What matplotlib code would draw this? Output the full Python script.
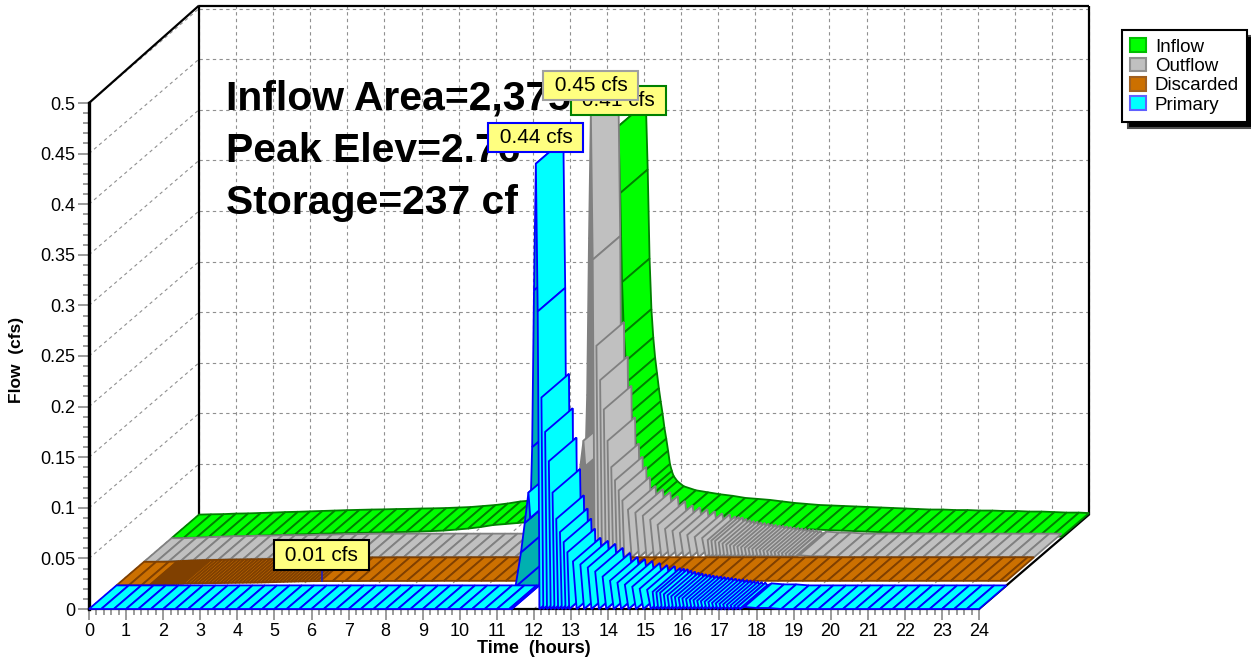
import matplotlib
matplotlib.use("Agg")
import matplotlib.pyplot as plt
from matplotlib.patches import Polygon, Patch
from matplotlib.ticker import MultipleLocator, FixedLocator, FixedFormatter

plt.rcParams["font.family"] = ["Liberation Sans", "DejaVu Sans"]

# ===== data =====
x_ticks = list(range(25))
y_ticks = [0, 0.05, 0.1, 0.15, 0.2, 0.25, 0.3, 0.35, 0.4, 0.45, 0.5]
y_labels = ["0", "0.05", "0.1", "0.15", "0.2", "0.25", "0.3", "0.35", "0.4", "0.45", "0.5"]

time_early = [0, 0.33, 0.67, 1, 1.33, 1.67, 2, 2.33, 2.67, 3, 3.33, 3.67, 4, 4.33, 4.67, 5, 5.33, 5.67,
              6, 6.33, 6.67, 7, 7.33, 7.67, 8, 8.33, 8.67, 9, 9.33, 9.67, 10, 10.33, 10.67, 11, 11.33]
time_pulse = [11.40, 11.50, 11.65, 11.75, 11.85, 11.90, 11.95, 12.00, 12.05,
              12.10, 12.15, 12.20, 12.25, 12.30, 12.35, 12.40, 12.45, 12.50, 12.55, 12.60, 12.65,
              12.70, 12.75, 12.80, 12.85, 12.90, 12.95,
              13.05, 13.15, 13.25, 13.35, 13.45, 13.55, 13.65, 13.75, 13.85, 13.95, 14.05, 14.15,
              14.25, 14.35, 14.45, 14.55, 14.65, 14.75, 14.85, 14.95, 15.05, 15.15,
              15.20, 15.25, 15.30, 15.35, 15.40, 15.45, 15.50, 15.55, 15.60, 15.65, 15.70, 15.75,
              15.80, 15.85, 15.90, 15.95, 16.00, 16.05, 16.10, 16.15, 16.20, 16.25, 16.30, 16.35,
              16.40, 16.45, 16.50, 16.55, 16.60, 16.65, 16.70, 16.75, 16.80, 16.85, 16.90, 16.95,
              17.00, 17.05, 17.10, 17.15, 17.20, 17.25, 17.30, 17.35, 17.40, 17.45, 17.50, 17.55]
time_late = [17.67, 18, 18.33, 18.67, 19, 19.33, 19.67, 20, 20.33, 20.67, 21, 21.33, 21.67,
             22, 22.33, 22.67, 23, 23.33, 23.67, 24]

primary_early = [0.0] * 35
primary_pulse = [0.0, 0.022, 0.056, 0.085, 0.115, 0.09, 0.16, 0.315, 0.44,
                 0.294, 0, 0.209, 0, 0.175, 0, 0.146, 0, 0.115, 0, 0.089, 0,
                 0.076, 0, 0.066, 0, 0.056, 0,
                 0.047, 0, 0.044, 0, 0.041, 0, 0.037, 0, 0.032, 0, 0.028, 0,
                 0.026, 0, 0.024, 0, 0.022, 0, 0.020, 0, 0.019, 0,
                 0.017, 0, 0.0165, 0, 0.016, 0, 0.0145, 0, 0.0135, 0, 0.0125, 0,
                 0.0118, 0, 0.011, 0, 0.0105, 0, 0.0098, 0, 0.0092, 0, 0.0087, 0,
                 0.0082, 0, 0.0077, 0, 0.0072, 0, 0.0067, 0, 0.006, 0, 0.0055, 0,
                 0.005, 0, 0.0045, 0, 0.004, 0, 0.0035, 0, 0.003, 0, 0.0025, 0]
primary_late = [0.002, 0.001, 0.001, 0, 0, 0, 0, 0, 0, 0, 0, 0, 0, 0, 0, 0, 0, 0, 0, 0]

outflow_early = [0, 0, 0.0005, 0.001, 0.0015, 0.002, 0.002, 0.0025, 0.0025, 0.003, 0.003, 0.003, 0.0035,
                 0.0035, 0.004, 0.004, 0.0043, 0.0045, 0.0045, 0.0045, 0.0045, 0.0045, 0.0045, 0.0045,
                 0.0045, 0.0045, 0.0045, 0.0045, 0.0045, 0.0045, 0.0045, 0.0045, 0.0045, 0.0045, 0.0045]
outflow_pulse = [0.0045, 0.0265, 0.0605, 0.0895, 0.1195, 0.0945, 0.1645, 0.3195, 0.445,
                 0.2985, 0.0045, 0.2135, 0.0045, 0.1795, 0.0045, 0.1505, 0.0045, 0.1195, 0.0045, 0.0935, 0.0045,
                 0.0805, 0.0045, 0.0705, 0.0045, 0.0605, 0.0045,
                 0.0515, 0.0045, 0.0485, 0.0045, 0.0455, 0.0045, 0.0415, 0.0045, 0.0365, 0.0045, 0.0325, 0.0045,
                 0.0305, 0.0045, 0.0285, 0.0045, 0.0265, 0.0045, 0.0245, 0.0045, 0.0235, 0.0045,
                 0.0215, 0.0045, 0.021, 0.0045, 0.0205, 0.0045, 0.019, 0.0045, 0.018, 0.0045, 0.017, 0.0045,
                 0.0163, 0.0045, 0.0155, 0.0045, 0.015, 0.0045, 0.0143, 0.0045, 0.0137, 0.0045, 0.0132, 0.0045,
                 0.0127, 0.0045, 0.0122, 0.0045, 0.0117, 0.0045, 0.0112, 0.0045, 0.0105, 0.0045, 0.01, 0.0045,
                 0.0095, 0.0045, 0.009, 0.0045, 0.0085, 0.0045, 0.008, 0.0045, 0.0075, 0.0045, 0.007, 0.0045]
outflow_late = [0.0065, 0.0055, 0.0055, 0.0045, 0.0045, 0.0045, 0.0045, 0.0045, 0.0045, 0.0045,
                0.0045, 0.0045, 0.0045, 0.0045, 0.0045, 0.0045, 0.0045, 0.0045, 0.0045, 0.0045]

time_discarded = [0, 0.33, 0.67, 0.90, 0.95, 1.00, 1.05, 1.10, 1.15, 1.20, 1.25, 1.30, 1.35, 1.40, 1.45,
                  1.50, 1.55, 1.60, 1.65, 1.70, 1.75, 1.80, 1.90, 2.00, 2.10, 2.20, 2.30, 2.40, 2.50,
                  2.60, 2.70, 2.80, 2.90, 3.00, 3.10, 3.20, 3.30, 3.40, 3.50, 3.60, 3.70, 3.80, 3.90,
                  4.00, 4.10, 4.20, 4.30, 4.40, 4.50, 4.60, 4.70, 4.80, 4.90, 5.00, 5.10, 5.20, 5.30,
                  5.40, 5.50, 5.83, 6.17, 6.50, 6.83, 7.17, 7.50, 7.83, 8.17, 8.50, 8.83, 9.17, 9.50,
                  9.83, 10.17, 10.50, 10.83, 11.17, 11.50, 11.83, 12.17, 12.50, 12.83, 13.17, 13.50,
                  13.83, 14.17, 14.50, 14.83, 15.17, 15.50, 15.83, 16.17, 16.50, 16.83, 17.17, 17.50,
                  17.83, 18.17, 18.50, 18.83, 19.17, 19.50, 19.83, 20.17, 20.50, 20.83, 21.17, 21.50,
                  21.83, 22.17, 22.50, 22.83, 23.17, 23.50, 23.83, 24]
discarded_flow = [0, 0, 0, 0.0004, 0.0005, 0.0006, 0.0007, 0.0008, 0.0009, 0.001, 0.0011, 0.0012, 0.0012, 0.0013,
                  0.0013, 0.0014, 0.0014, 0.0015, 0.0015, 0.0016, 0.0016, 0.0017, 0.0018, 0.0019, 0.002, 0.002,
                  0.0021, 0.0021, 0.0022, 0.0022, 0.0023, 0.0023, 0.0024, 0.0024, 0.0025, 0.0025, 0.0026, 0.0026,
                  0.0027, 0.0027, 0.0028, 0.0028, 0.0029, 0.003, 0.0031, 0.0032, 0.0033, 0.0034, 0.0035, 0.0036,
                  0.0037, 0.0038, 0.0039, 0.004, 0.004, 0.0041, 0.0042, 0.0042, 0.0043, 0.0043, 0.0043, 0.0043,
                  0.0044, 0.0044, 0.0044, 0.0044, 0.0044, 0.0044, 0.0045, 0.0045, 0.0045, 0.0045, 0.0045, 0.0045,
                  0.0045, 0.0045, 0.0045, 0.0045, 0.0045, 0.0045, 0.0045, 0.0045, 0.0045, 0.0045, 0.0045, 0.0045,
                  0.0045, 0.0045, 0.0045, 0.0045, 0.0045, 0.0045, 0.0045, 0.0045, 0.0045, 0.0045, 0.0045, 0.0045,
                  0.0045, 0.0045, 0.0045, 0.0045, 0.0045, 0.0045, 0.0045, 0.0045, 0.0045, 0.0045, 0.0045, 0.0045,
                  0.0045, 0.0045, 0.0045, 0.0045, 0.0045]

time_inflow = [0, 0.33, 0.67, 1, 1.33, 1.67, 2, 2.33, 2.67, 3, 3.33, 3.67, 4, 4.33, 4.67, 5, 5.33, 5.67,
               6, 6.33, 6.67, 7, 7.33, 7.67, 8, 8.33, 8.67, 9, 9.33, 9.67, 10, 10.33, 10.67, 11, 11.25,
               11.40, 11.50, 11.60, 11.70, 11.80, 11.90, 12.00, 12.05, 12.10, 12.15, 12.20, 12.25, 12.30,
               12.35, 12.40, 12.45, 12.50, 12.55, 12.60, 12.65, 12.70, 12.75, 12.80, 12.90, 13.07, 13.40,
               13.73, 14.07, 14.40, 14.73, 15.07, 15.40, 15.73, 16.07, 16.40, 16.73, 17.07, 17.40, 17.73,
               18.07, 18.40, 18.73, 19.07, 19.40, 19.73, 20.07, 20.40, 20.73, 21.07, 21.40, 21.73, 22.07,
               22.40, 22.73, 23.07, 23.40, 23.73, 24]
inflow_flow = [0, 0.0003, 0.0005, 0.001, 0.0012, 0.0016, 0.002, 0.0025, 0.0028, 0.0032, 0.0036, 0.004, 0.0044,
               0.0047, 0.005, 0.0052, 0.0055, 0.0057, 0.006, 0.0062, 0.0065, 0.007, 0.0075, 0.0085, 0.0095,
               0.011, 0.013, 0.014, 0.015, 0.016, 0.018, 0.02, 0.023, 0.027, 0.032,
               0.04, 0.05, 0.065, 0.085, 0.12, 0.19, 0.33, 0.407, 0.341, 0.253, 0.203, 0.175, 0.155,
               0.14, 0.125, 0.112, 0.10, 0.086, 0.075, 0.063, 0.05, 0.043, 0.038, 0.033, 0.028, 0.024,
               0.022, 0.02, 0.0185, 0.0165, 0.0155, 0.0145, 0.013, 0.0115, 0.0105, 0.0095, 0.009, 0.0085, 0.008,
               0.0075, 0.007, 0.0065, 0.006, 0.0055, 0.005, 0.005, 0.0045, 0.0045, 0.004, 0.004, 0.0035, 0.0035,
               0.003, 0.003, 0.0025, 0.002, 0.002, 0.0015]

# ===== obliqueness: one ribbon slot of depth, in data units =====
SLOT_H = 0.7416
SLOT_Q = 0.02332


def ribbon(ax, times, flows, slot, fill, dark, edge):
    dh, dq = slot * SLOT_H, slot * SLOT_Q
    base = 5 + 2 * (3 - slot)
    for i in range(len(times) - 1):
        t0, t1, q0, q1 = times[i], times[i + 1], flows[i], flows[i + 1]
        quad = [(t0 + dh, q0 + dq), (t1 + dh, q1 + dq), (t1 + dh + SLOT_H, q1 + dq + SLOT_Q), (t0 + dh + SLOT_H, q0 + dq + SLOT_Q)]
        # far sides of the saw teeth go first
        if (q1 - q0) / (t1 - t0) > 0.05:
            ax.add_patch(Polygon(quad, closed=True, fc=dark, ec=edge, lw=1.3, clip_on=False, zorder=base))
        else:
            ax.add_patch(Polygon(quad, closed=True, fc=fill, ec=edge, lw=1.3, clip_on=False, zorder=base + 1))


fig = plt.figure(figsize=(12.51, 6.66), dpi=100)
ax = fig.add_axes([89 / 1251, 1 - 609 / 666, 890 / 1251, 506 / 666])
ax.set_xlim(0, 24)
ax.set_ylim(0, 0.5)
ax.patch.set_visible(False)

# ===== walls and floor =====
GRID = dict(color="#909090", lw=0.8, dashes=(3, 3), clip_on=False, zorder=1)
back_h, back_q = SLOT_H * 4, SLOT_Q * 4
for t in x_ticks:
    ax.plot([t, t + back_h], [0, back_q], **GRID)
    ax.plot([t + back_h, t + back_h], [back_q, 0.5 + back_q + 0.003], **GRID)
for q in y_ticks:
    ax.plot([0, back_h], [q, q + back_q], **GRID)
    ax.plot([back_h, 24 + back_h], [q + back_q, q + back_q], **GRID)

FRAME = dict(color="black", clip_on=False, zorder=2, solid_capstyle="butt")
ax.plot([back_h, back_h], [back_q, 0.5 + back_q + 0.003], lw=1.6, **FRAME)
ax.plot([back_h, 24 + back_h], [0.5 + back_q + 0.003] * 2, lw=1.6, **FRAME)
ax.plot([24 + back_h, 24 + back_h], [back_q, 0.5 + back_q + 0.003], lw=1.6, **FRAME)
ax.plot([0, back_h], [0.5, 0.5 + back_q + 0.003], lw=1.6, **FRAME)
ax.plot([24, 24 + back_h], [0, back_q], lw=1.6, **FRAME)

for side in ("top", "right"):
    ax.spines[side].set_visible(False)
ax.spines["left"].set_linewidth(2.4)
ax.spines["bottom"].set_linewidth(1.6)

# ===== big note behind the ribbons =====
for line, y_px in (("Inflow Area=2,375 sf", 98), ("Peak Elev=2.76'", 151), ("Storage=237 cf", 203)):
    ax.text(226 / 1251, 1 - y_px / 666, line, transform=fig.transFigure, fontsize=29.4, fontweight="bold",
            ha="left", va="center", zorder=3)

# ===== ribbons, far to near =====
ribbon(ax, time_inflow, inflow_flow, 3, "#00FF00", "#00B000", "#008000")
ribbon(ax, time_early + time_pulse + time_late, outflow_early + outflow_pulse + outflow_late, 2, "#C0C0C0", "#808080", "#808080")
ribbon(ax, time_discarded, discarded_flow, 1, "#CC7000", "#804000", "#804000")
ribbon(ax, time_early + time_pulse + time_late, primary_early + primary_pulse + primary_late, 0, "#00FFFF", "#00B0B0", "#0000FF")

# ===== peak labels =====
peaks = [("0.41 cfs", 12.05, 0.407, 3, "#008000"),
         ("0.45 cfs", 12.05, 0.445, 2, "#A0A0A0"),
         ("0.01 cfs", 5.53, 0.0043, 1, "black"),
         ("0.44 cfs", 12.05, 0.44, 0, "#0000FF")]
ax.plot([5.53 + SLOT_H] * 2, [0.0043 + SLOT_Q, 0.0043 + SLOT_Q + 0.012], color="#2020C0", lw=1.2, clip_on=False, zorder=19)
for i, (label, t, q, slot, edge) in enumerate(peaks):
    ax.annotate("\u00a0" + label + "\u00a0", xy=(t + slot * SLOT_H, q + slot * SLOT_Q), xytext=(0, 18.7),
                textcoords="offset points", ha="center", va="center", fontsize=15, annotation_clip=False,
                bbox=dict(boxstyle="square,pad=0.25", fc="#FFFF80", ec=edge, lw=1.5), zorder=20 + i)

# ===== axes =====
ax.xaxis.set_major_locator(FixedLocator(x_ticks))
ax.xaxis.set_minor_locator(MultipleLocator(0.2))
ax.yaxis.set_major_locator(FixedLocator(y_ticks))
ax.yaxis.set_major_formatter(FixedFormatter(y_labels))
ax.yaxis.set_minor_locator(MultipleLocator(0.01))
ax.tick_params(which="major", length=8, width=1.1, color="#808080", labelsize=13, pad=2)
ax.tick_params(which="minor", length=4.5, width=1.1, color="#808080")
ax.set_xlabel("Time  (hours)", fontsize=13, fontweight="bold", labelpad=0)
ax.text(17 / 1251, 1 - 360 / 666, "Flow  (cfs)", transform=fig.transFigure, rotation=90, fontsize=12.5,
        fontweight="bold", ha="center", va="center")

# ===== legend =====
handles = [Patch(fc="#00FF00", ec="#00C000", lw=1.5, label="Inflow"),
           Patch(fc="#C0C0C0", ec="#909090", lw=1.5, label="Outflow"),
           Patch(fc="#CC7000", ec="#A06020", lw=1.5, label="Discarded"),
           Patch(fc="#00FFFF", ec="#6060FF", lw=1.5, label="Primary")]
fig.legend(handles=handles, loc="upper left", bbox_to_anchor=(1122 / 1251, 1 - 30 / 666), fontsize=13.5,
           fancybox=False, edgecolor="black", framealpha=1, borderpad=0.45, labelspacing=0.1,
           handlelength=0.85, handleheight=0.75, handletextpad=0.45, borderaxespad=0,
           shadow=dict(ox=4, oy=-4, fc="black", alpha=1)).get_frame().set_linewidth(1.5)

fig.savefig("out.png", dpi=100)
